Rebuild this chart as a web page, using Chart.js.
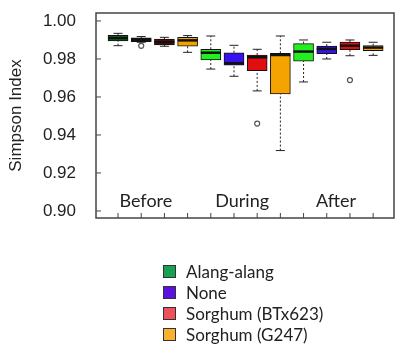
<!DOCTYPE html>
<html>
<head>
<meta charset="utf-8">
<script src="https://cdn.jsdelivr.net/npm/chart.js@4/dist/chart.umd.min.js"></script>
<style>
  html, body { margin: 0; padding: 0; background: #fff; }
  #wrap { position: relative; width: 395px; height: 349px; }
  #legend { position: absolute; left: 163px; top: 261px; font-family: Lato, sans-serif; font-size: 17px; color: #222; }
  .item { display: flex; align-items: center; height: 21px; }
  .sw { width: 11px; height: 11px; border: 1px solid #333; margin-right: 10px; }
</style>
</head>
<body>
<div id="wrap">
  <canvas id="c" width="395" height="349"></canvas>
  <div id="legend"></div>
</div>
<script>
const periods = ['Before', 'During', 'After'];
const treatments = ['Alang-alang', 'None', 'Sorghum (BTx623)', 'Sorghum (G247)'];

// one entry per box: Before x4, During x4, After x4 (treatment order as above)
const whiskerLow = [0.9870, 0.9888, 0.9867, 0.9835, 0.9747, 0.9709, 0.9632, 0.9318, 0.9679, 0.9800, 0.9817, 0.9819];
const quart1     = [0.9895, 0.9891, 0.9874, 0.9868, 0.9795, 0.9767, 0.9738, 0.9616, 0.9789, 0.9828, 0.9849, 0.9844];
const medians    = [0.9910, 0.9900, 0.9889, 0.9898, 0.9833, 0.9777, 0.9809, 0.9821, 0.9839, 0.9853, 0.9870, 0.9860];
const quart3     = [0.9925, 0.9911, 0.9905, 0.9914, 0.9851, 0.9833, 0.9821, 0.9830, 0.9881, 0.9868, 0.9889, 0.9870];
const whiskerHigh= [0.9935, 0.9918, 0.9914, 0.9923, 0.9921, 0.9872, 0.9851, 0.9921, 0.9900, 0.9888, 0.9900, 0.9888];

const outlierBox = [1, 6, 10];
const outlierVal = [0.9869, 0.9460, 0.9689];

const yTicks = [0.90, 0.92, 0.94, 0.96, 0.98, 1.00];

const beforeColors = ['#0e6a1e', '#16161f', '#5c0b0b', '#f2a100'];
const boxColors = ['#22ee22', '#3a12ee', '#e00e0e', '#f5a300'];
const legendColors = ['#19a052', '#5a12e2', '#f0505a', '#f8b232'];

const axisFont = "'Liberation Sans', Arial, sans-serif";

const datasets = treatments.map((name, t) => ({
  type: 'bar',
  label: name,
  data: periods.map((p, k) => ({ x: k * 4 + t, y: [quart1[k * 4 + t], quart3[k * 4 + t]] })),
  backgroundColor: periods.map((p, k) => k === 0 ? beforeColors[t] : boxColors[t]),
  borderColor: '#111',
  borderWidth: 1,
  borderSkipped: false,
  barThickness: 20,
  grouped: false
}));

datasets.push({
  type: 'scatter',
  label: 'outliers',
  data: outlierBox.map((b, i) => ({ x: b, y: outlierVal[i] })),
  pointRadius: 2.5,
  pointBackgroundColor: '#fff',
  pointBorderColor: '#555',
  pointBorderWidth: 1.2
});

function seg(ctx, x1, y1, x2, y2) {
  ctx.beginPath();
  ctx.moveTo(x1, y1);
  ctx.lineTo(x2, y2);
  ctx.stroke();
}

const boxPlot = {
  id: 'boxPlot',
  beforeDatasetsDraw(chart) {
    const { ctx, scales: { x, y } } = chart;
    ctx.save();
    ctx.strokeStyle = '#222';
    ctx.lineWidth = 1;
    whiskerLow.forEach((lo, i) => {
      const px = x.getPixelForValue(i);
      ctx.setLineDash([2, 2]);
      seg(ctx, px, y.getPixelForValue(lo), px, y.getPixelForValue(quart1[i]));
      seg(ctx, px, y.getPixelForValue(quart3[i]), px, y.getPixelForValue(whiskerHigh[i]));
      ctx.setLineDash([]);
      seg(ctx, px - 4.5, y.getPixelForValue(lo), px + 4.5, y.getPixelForValue(lo));
      seg(ctx, px - 4.5, y.getPixelForValue(whiskerHigh[i]), px + 4.5, y.getPixelForValue(whiskerHigh[i]));
    });
    ctx.restore();
  },
  afterDatasetsDraw(chart) {
    const { ctx, chartArea: a, scales: { x, y } } = chart;
    ctx.save();
    // medians
    ctx.strokeStyle = '#111';
    ctx.lineWidth = 2.5;
    medians.forEach((m, i) => {
      const px = x.getPixelForValue(i);
      const py = y.getPixelForValue(m);
      seg(ctx, px - 10, py, px + 10, py);
    });
    // frame
    ctx.strokeStyle = '#444';
    ctx.lineWidth = 1.5;
    ctx.strokeRect(a.left, a.top, a.right - a.left, a.bottom - a.top);
    // inner tick marks
    ctx.lineWidth = 1;
    yTicks.forEach(v => {
      const py = y.getPixelForValue(v);
      seg(ctx, a.left, py, a.left + 5, py);
    });
    whiskerLow.forEach((lo, i) => {
      const px = x.getPixelForValue(i);
      seg(ctx, px, a.bottom, px, a.bottom - 5);
    });
    // period labels
    ctx.fillStyle = '#222';
    ctx.font = '18px Lato, sans-serif';
    ctx.textAlign = 'center';
    ctx.textBaseline = 'alphabetic';
    const labelAt = [1.2, 5.35, 9.4];
    periods.forEach((p, k) => ctx.fillText(p, x.getPixelForValue(labelAt[k]), a.bottom - 11));
    ctx.restore();
  }
};

const chart = new Chart(document.getElementById('c'), {
  type: 'bar',
  data: { datasets: datasets },
  options: {
    responsive: false,
    animation: false,
    layout: { autoPadding: false, padding: { top: 13, right: 1, bottom: 131, left: 0 } },
    plugins: { legend: { display: false }, tooltip: { enabled: false } },
    scales: {
      x: { type: 'linear', min: -0.95, max: 11.9, display: false, offset: false },
      y: {
        min: 0.8963,
        max: 1.0042,
        afterBuildTicks: (s) => { s.ticks = yTicks.map(v => ({ value: v })); },
        afterFit: (s) => { s.width = 96; s.paddingTop = 0; s.paddingBottom = 0; },
        grid: { display: false },
        border: { display: false },
        ticks: {
          padding: 12,
          color: '#222',
          font: { family: axisFont, size: 17 },
          callback: (v) => v.toFixed(2)
        },
        title: {
          display: true,
          text: 'Simpson Index',
          color: '#222',
          font: { family: axisFont, size: 17 },
          padding: { top: 6, bottom: 0 }
        }
      }
    }
  },
  plugins: [boxPlot]
});

// legend
const legend = document.getElementById('legend');
treatments.forEach((name, t) => {
  const row = document.createElement('div');
  row.className = 'item';
  const sw = document.createElement('span');
  sw.className = 'sw';
  sw.style.background = legendColors[t];
  const tx = document.createElement('span');
  tx.textContent = name;
  row.appendChild(sw);
  row.appendChild(tx);
  legend.appendChild(row);
});
</script>
</body>
</html>
